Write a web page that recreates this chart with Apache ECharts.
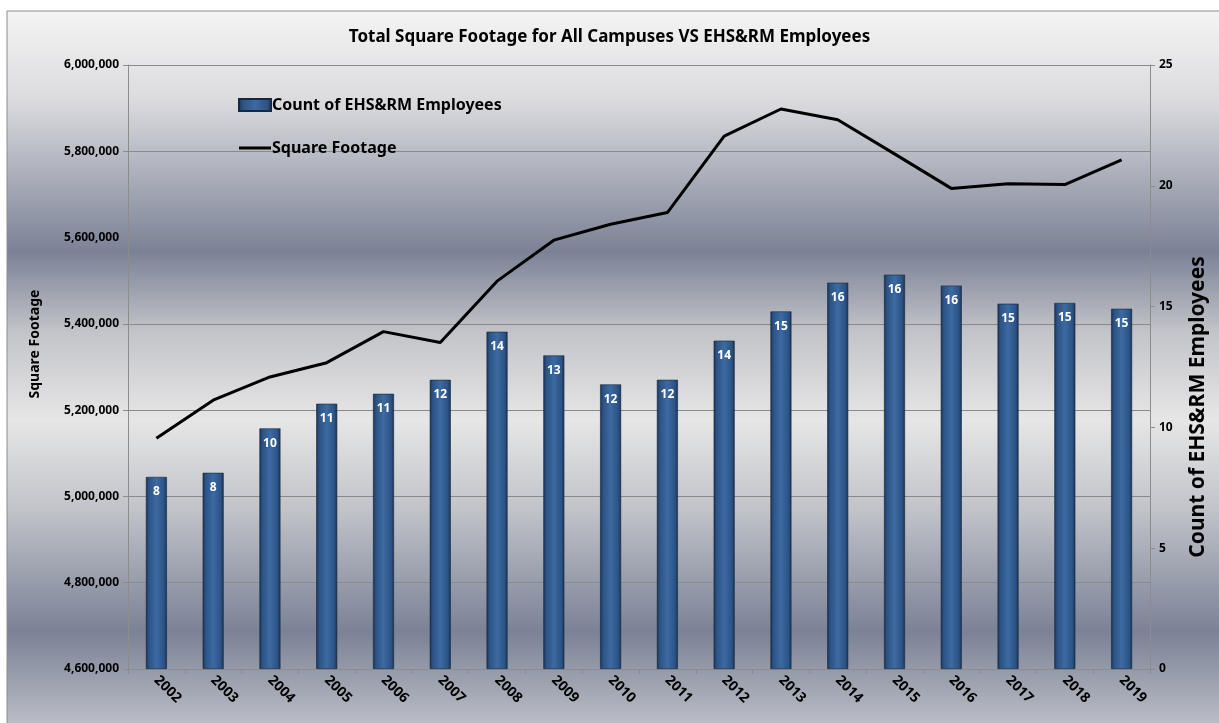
<!DOCTYPE html>
<html>
<head>
<meta charset="utf-8">
<title>Square Footage vs EHS&RM Employees</title>
<script src="https://cdn.jsdelivr.net/npm/echarts@6/dist/echarts.min.js"></script>
<style>
  html, body { margin: 0; padding: 0; background: #fff; }
  #main { width: 1219px; height: 723px; }
</style>
</head>
<body>
<div id="main"></div>
<script>
// data
var years = ['2002', '2003', '2004', '2005', '2006', '2007', '2008', '2009', '2010',
             '2011', '2012', '2013', '2014', '2015', '2016', '2017', '2018', '2019'];
var employees = [7.95, 8.12, 9.96, 10.98, 11.39, 11.97, 13.96, 12.98, 11.78,
                 11.97, 13.59, 14.8, 15.99, 16.32, 15.87, 15.12, 15.15, 14.91];
var squareFootage = [5135000, 5223000, 5277000, 5310000, 5382000, 5357000, 5499000, 5594000, 5631000,
                     5658000, 5835000, 5898000, 5873000, 5794000, 5714000, 5725000, 5723000, 5780000];
var leftTicks = { min: 4600000, max: 6000000, step: 200000 };
var rightTicks = { min: 0, max: 25, step: 5 };

var font = 'Noto Sans';

function barFill() {
    return new echarts.graphic.LinearGradient(0, 0, 1, 0, [
        { offset: 0, color: '#1a3150' },
        { offset: 0.14, color: '#2c5386' },
        { offset: 0.5, color: '#3c6aa1' },
        { offset: 0.86, color: '#2c5386' },
        { offset: 1, color: '#1a3150' }
    ]);
}

var myChart = echarts.init(document.getElementById('main'));

var option = {
    backgroundColor: '#ffffff',
    animation: false,
    textStyle: { fontFamily: font },
    graphic: [{
        // chart area frame with the banded grey background
        type: 'rect',
        z: -10,
        shape: { x: 7, y: 11, width: 1230, height: 730 },
        style: {
            fill: new echarts.graphic.LinearGradient(0, 0, 0, 1, [
                { offset: 0, color: '#f4f4f4' },
                { offset: 0.12, color: '#dcdcdf' },
                { offset: 0.33, color: '#7b8296' },
                { offset: 0.44, color: '#c3c4c9' },
                { offset: 0.56, color: '#e6e6e6' },
                { offset: 0.68, color: '#c2c4ca' },
                { offset: 0.85, color: '#7b8296' },
                { offset: 1, color: '#c6c8ce' }
            ]),
            stroke: '#8c8c8c',
            lineWidth: 1
        }
    }, {
        // axis titles, placed where the original has them
        type: 'text',
        x: 35,
        y: 344,
        rotation: Math.PI / 2,
        style: {
            text: 'Square Footage',
            font: 'bold 14px "Noto Sans"',
            fill: '#000',
            textAlign: 'center',
            textVerticalAlign: 'middle'
        }
    }, {
        type: 'text',
        x: 1198,
        y: 407,
        rotation: Math.PI / 2,
        style: {
            text: 'Count of EHS&RM Employees',
            font: 'bold 21px "Noto Sans"',
            fill: '#000',
            textAlign: 'center',
            textVerticalAlign: 'middle'
        }
    }],
    title: {
        text: 'Total Square Footage for All Campuses VS EHS&RM Employees',
        left: 'center',
        top: 24,
        textStyle: { fontFamily: font, fontSize: 17, fontWeight: 'bold', color: '#000' }
    },
    legend: {
        orient: 'vertical',
        left: 233,
        top: 92,
        itemGap: 27,
        itemWidth: 32,
        itemHeight: 12,
        textStyle: { fontFamily: font, fontSize: 16, fontWeight: 'bold', color: '#000', padding: [0, 0, 0, -4] },
        data: [
            { name: 'Count of EHS&RM Employees', icon: 'rect' },
            { name: 'Square Footage', icon: 'path://M0,0 L32,0 L32,3 L0,3 Z' }
        ]
    },
    grid: { left: 128, right: 69, top: 65, bottom: 54 },
    xAxis: {
        type: 'category',
        data: years,
        axisLine: { lineStyle: { color: '#8c8c8c', width: 1 } },
        axisTick: { show: true, length: 5, lineStyle: { color: '#8c8c8c' } },
        axisLabel: {
            rotate: -45,
            margin: 9,
            color: '#000',
            fontFamily: font,
            fontSize: 14,
            fontWeight: 'bold'
        }
    },
    yAxis: [{
        type: 'value',
        min: leftTicks.min,
        max: leftTicks.max,
        interval: leftTicks.step,
        axisLine: { show: true, lineStyle: { color: '#8c8c8c' } },
        axisTick: { show: true, length: 5, lineStyle: { color: '#8c8c8c' } },
        axisLabel: {
            color: '#000',
            fontFamily: font,
            fontSize: 12,
            fontWeight: 'bold',
            margin: 9,
            formatter: function (v) { return v.toLocaleString('en-US'); }
        },
        splitLine: { lineStyle: { color: '#8a8a8a', width: 1 } }
    }, {
        type: 'value',
        min: rightTicks.min,
        max: rightTicks.max,
        interval: rightTicks.step,
        axisLine: { show: true, lineStyle: { color: '#8c8c8c' } },
        axisTick: { show: true, length: 5, lineStyle: { color: '#8c8c8c' } },
        axisLabel: { color: '#000', fontFamily: font, fontSize: 12, fontWeight: 'bold', margin: 9 },
        splitLine: { show: false }
    }],
    series: [{
        name: 'Count of EHS&RM Employees',
        type: 'bar',
        yAxisIndex: 1,
        barWidth: 21,
        itemStyle: { color: barFill(), borderColor: '#17293f', borderWidth: 0.6 },
        label: {
            show: true,
            position: 'insideTop',
            distance: 9,
            color: '#fff',
            fontFamily: font,
            fontSize: 12,
            fontWeight: 'bold',
            formatter: function (p) { return Math.round(p.value); }
        },
        data: employees
    }, {
        name: 'Square Footage',
        type: 'line',
        yAxisIndex: 0,
        symbol: 'none',
        lineStyle: { color: '#000', width: 3 },
        itemStyle: { color: '#000' },
        data: squareFootage,
        z: 5
    }]
};

myChart.setOption(option);
</script>
</body>
</html>
